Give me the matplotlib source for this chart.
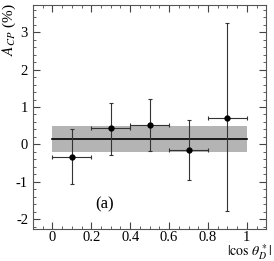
import matplotlib
matplotlib.use("Agg")
import matplotlib.pyplot as plt
from matplotlib.ticker import MultipleLocator

plt.rcParams["font.family"] = ["Liberation Serif", "DejaVu Serif"]
plt.rcParams["mathtext.fontset"] = "stix"
plt.rcParams["axes.unicode_minus"] = False

# binned asymmetry values
cos_bins = [0.1, 0.3, 0.5, 0.7, 0.9]
bin_halfwidth = [0.1, 0.1, 0.1, 0.1, 0.1]
acp = [-0.35, 0.44, 0.53, -0.15, 0.71]
err_up = [0.75, 0.68, 0.69, 0.81, 2.53]
err_down = [0.72, 0.71, 0.71, 0.79, 2.48]

# fit result (constant) with its band
fit_value = 0.15
fit_low = -0.2
fit_high = 0.5
fit_range = [0.0, 1.0]

fig = plt.figure(figsize=(2.74, 2.61), dpi=100)
ax = fig.add_axes([0.12, 0.123, 0.852, 0.858])

ax.fill_between(fit_range, fit_low, fit_high, color="#b4b4b4", lw=0, zorder=1)
ax.plot(fit_range, [fit_value, fit_value], color="black", lw=1.2, zorder=2)

ax.errorbar(cos_bins, acp, xerr=bin_halfwidth, yerr=[err_down, err_up],
            fmt="o", color="black", ecolor="#333333", ms=3.5, elinewidth=0.8,
            capsize=1.5, capthick=0.8, zorder=3)

ax.set_xlim(-0.1, 1.1)
ax.set_ylim(-2.26, 3.73)
ax.xaxis.set_major_locator(MultipleLocator(0.2))
ax.xaxis.set_minor_locator(MultipleLocator(0.05))
ax.yaxis.set_major_locator(MultipleLocator(1))
ax.yaxis.set_minor_locator(MultipleLocator(0.2))
ax.set_xticks([0, 0.2, 0.4, 0.6, 0.8, 1.0])
ax.set_xticklabels(["0", "0.2", "0.4", "0.6", "0.8", "1"])
ax.tick_params(which="both", direction="in", top=True, right=True,
               labelsize=10.5, color="#444444")
ax.tick_params(axis="x", pad=1.5)
ax.tick_params(which="major", length=5)
ax.tick_params(which="minor", length=2.5)
for s in ax.spines.values():
    s.set_color("#555555")
    s.set_linewidth(0.8)

ax.text(0.27, -1.6, "(a)", fontsize=12, ha="center", va="center")
fig.text(0.033, 0.985, r"$A_{CP}$ (%)", rotation=90, ha="center", va="top", fontsize=11)
fig.text(0.99, -0.004, r"$|\cos\,\theta_D^*|$", ha="right", va="bottom", fontsize=10)

fig.savefig("out.png", dpi=100)
